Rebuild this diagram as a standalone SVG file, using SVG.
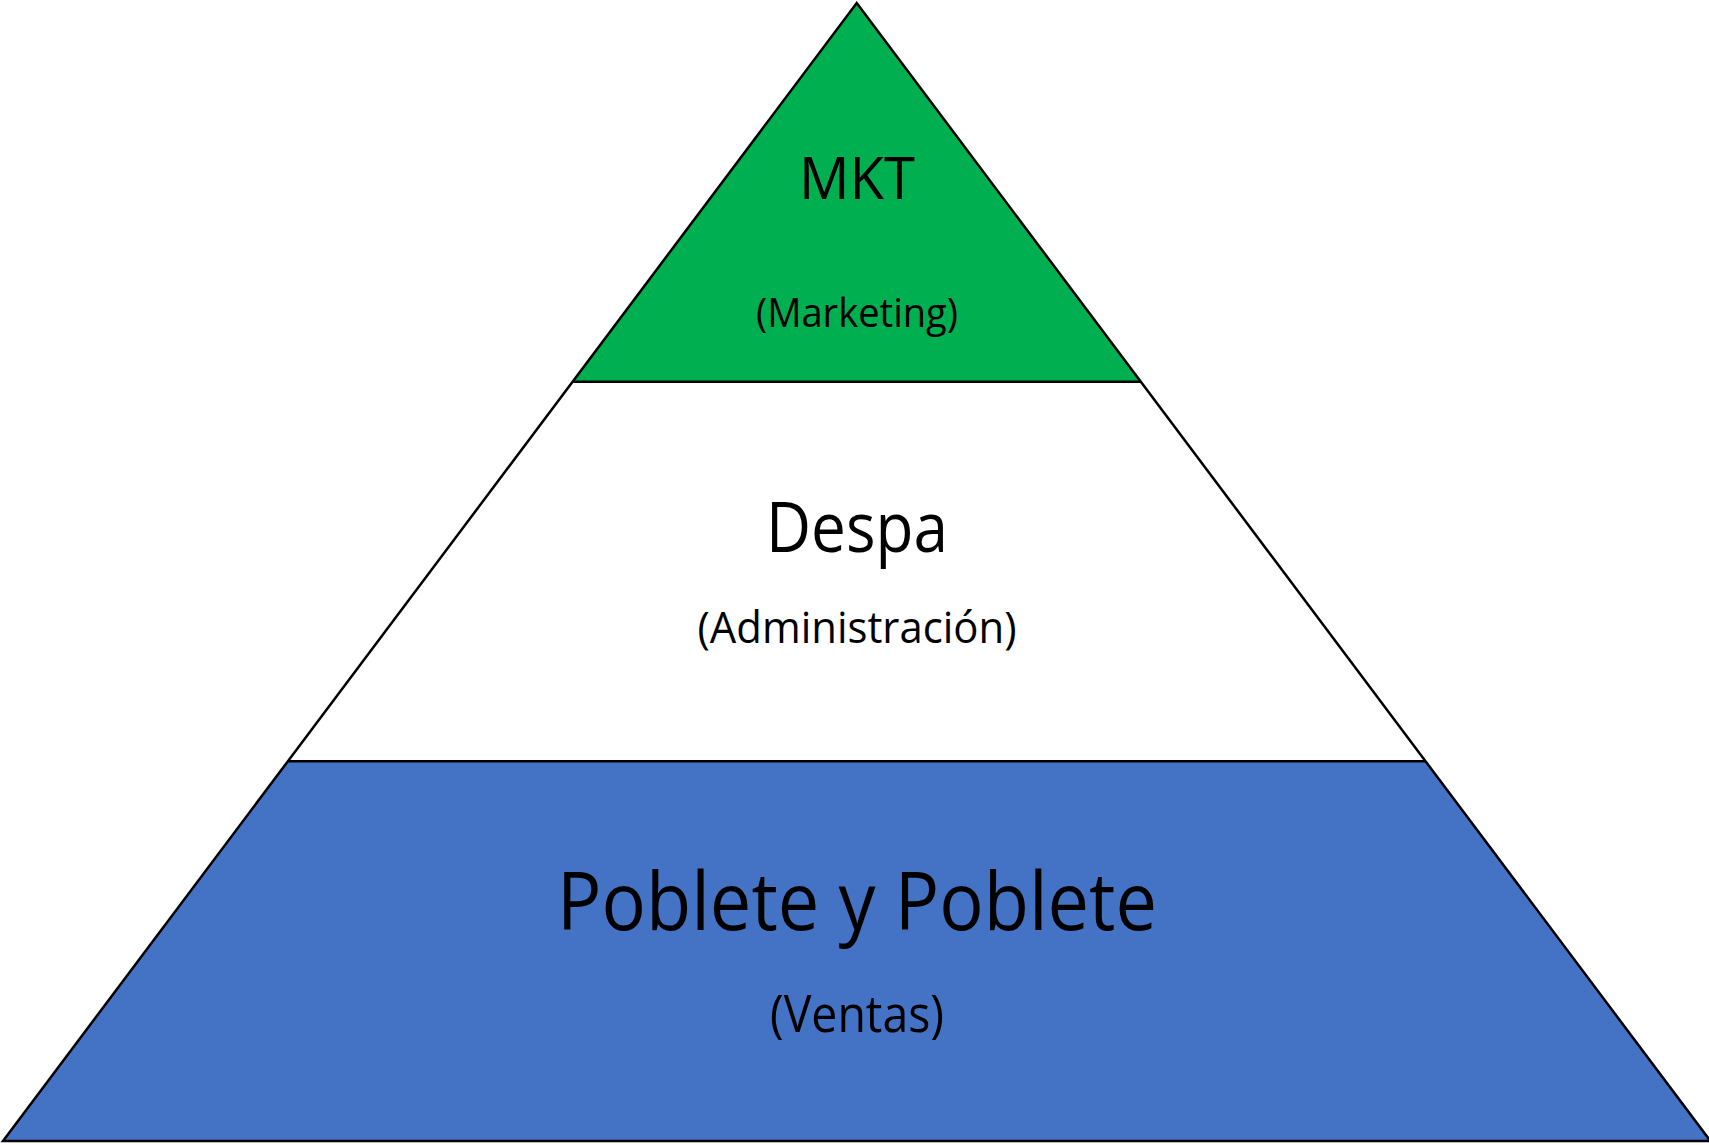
<svg xmlns="http://www.w3.org/2000/svg" width="1709" height="1145" viewBox="0 0 1709 1145">
<style>
.t{font-family:"Open Sans","Noto Sans","Liberation Sans",sans-serif;fill:#000;text-anchor:middle}
.edge{fill:none;stroke:#000;stroke-width:2.5;stroke-linejoin:miter}
</style>
<rect width="1709" height="1145" fill="#fff"/>
<g id="top">
<polygon points="856.7,3 572.7,381.7 1140.7,381.7" fill="#00B050"/>
<text class="t" x="857" y="199" font-size="59" textLength="116" lengthAdjust="spacingAndGlyphs">MKT</text>
<text class="t" x="857" y="327" font-size="40" textLength="202" lengthAdjust="spacingAndGlyphs">(Marketing)</text>
</g>
<g id="middle">
<polygon points="572.7,381.7 1140.7,381.7 1425.4,761.3 288,761.3" fill="#fff"/>
<text class="t" x="857" y="552" font-size="69" textLength="182" lengthAdjust="spacingAndGlyphs">Despa</text>
<text class="t" x="857" y="643" font-size="44" textLength="319" lengthAdjust="spacingAndGlyphs">(Administración)</text>
</g>
<g id="bottom">
<polygon points="288,761.3 1425.4,761.3 1710.4,1141 3,1141" fill="#4472C4"/>
<text class="t" x="857" y="930" font-size="80" textLength="600" lengthAdjust="spacingAndGlyphs">Poblete y Poblete</text>
<text class="t" x="857" y="1032" font-size="52" textLength="174" lengthAdjust="spacingAndGlyphs">(Ventas)</text>
</g>
<g id="connectors">
<polygon class="edge" points="856.7,3 1710.4,1141 3,1141"/>
<line class="edge" x1="572.7" y1="381.7" x2="1140.7" y2="381.7"/>
<line class="edge" x1="288" y1="761.3" x2="1425.4" y2="761.3"/>
</g>
</svg>
